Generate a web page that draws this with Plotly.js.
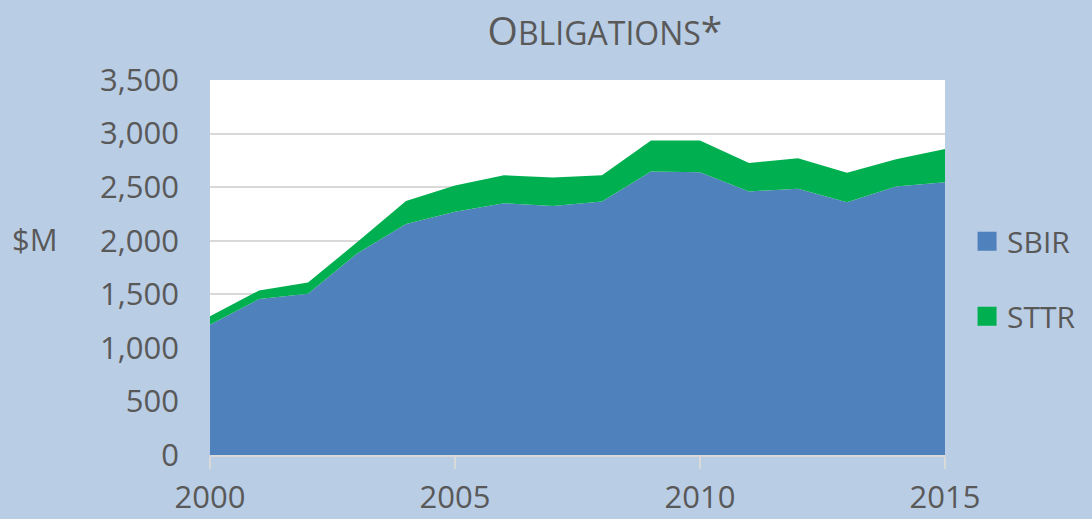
<!DOCTYPE html>
<html>
<head>
<meta charset="utf-8">
<script src="https://cdn.plot.ly/plotly-3.0.1.min.js"></script>
<style>html,body{margin:0;padding:0;background:#B9CDE5;}#chart{width:1092px;height:519px;}</style>
</head>
<body>
<div id="chart"></div>
<script>
// Data ($M obligations)
const years = [2000,2001,2002,2003,2004,2005,2006,2007,2008,2009,2010,2011,2012,2013,2014,2015];
const sbir  = [1215,1455,1505,1880,2155,2270,2350,2325,2365,2645,2640,2460,2485,2360,2505,2545];
const sttr  = [80,80,105,105,215,245,260,265,245,290,295,265,285,275,255,310];
const seriesNames = ["SBIR","STTR"];
const yTicks = [0,500,1000,1500,2000,2500,3000,3500];
const xTicks = [2000,2005,2010,2015];

const colBlue = "#4F81BD", colGreen = "#00B050", txt = "#595959";

const traces = [
  {x: years, y: sbir, name: seriesNames[0], type: "scatter", mode: "none", stackgroup: "one",
   fillcolor: colBlue, showlegend: false, hoverinfo: "x+y+name"},
  {x: years, y: sttr, name: seriesNames[1], type: "scatter", mode: "none", stackgroup: "one",
   fillcolor: colGreen, showlegend: false, hoverinfo: "x+y+name"},
  {x: [null], y: [null], name: seriesNames[0], type: "scatter", mode: "markers", legendgroup: "a",
   marker: {symbol: "square", size: 16, color: colBlue, line: {color: colBlue, width: 3}}},
  {x: [null], y: [null], name: seriesNames[1], type: "scatter", mode: "markers", legendgroup: "b",
   marker: {symbol: "square", size: 16, color: colGreen, line: {color: colGreen, width: 3}}}
];

const layout = {
  width: 1092, height: 519,
  paper_bgcolor: "#B9CDE5", plot_bgcolor: "#FFFFFF",
  margin: {l: 210, r: 147, t: 80, b: 64, autoexpand: false},
  font: {family: "Open Sans, sans-serif", color: txt, size: 30},
  title: {
    text: "O<span style=\"font-size:32px\">BLIGATIONS</span>*",
    font: {family: "Open Sans, sans-serif", size: 39, color: txt},
    x: 0.554, xref: "container", xanchor: "center",
    y: 0.94, yref: "container", yanchor: "middle"
  },
  xaxis: {
    range: [2000, 2015], tickvals: xTicks, ticktext: xTicks.map(String),
    showgrid: false, zeroline: false,
    showline: true, linecolor: "#D9D9D9", linewidth: 2,
    ticks: "outside", ticklen: 12, tickcolor: "#D9D9D9", tickwidth: 2,
    tickfont: {size: 31, color: txt}, ticklabelstandoff: 2
  },
  yaxis: {
    range: [0, 3500], tickvals: yTicks, ticktext: yTicks.map(v => v.toLocaleString("en-US")),
    showgrid: true, gridcolor: "#D9D9D9", gridwidth: 2, zeroline: false, showline: false,
    ticks: "", tickfont: {size: 31, color: txt}, ticklabelstandoff: 30
  },
  legend: {
    x: 1.03, xref: "paper", xanchor: "left", y: 0.47, yanchor: "middle",
    font: {size: 30, color: txt}, bgcolor: "rgba(0,0,0,0)",
    traceorder: "grouped", tracegroupgap: 33, itemwidth: 30
  },
  annotations: [{
    text: "$M", xref: "paper", yref: "paper", x: -0.238, y: 0.575,
    xanchor: "center", yanchor: "middle", showarrow: false,
    font: {size: 31, color: txt}
  }],
  showlegend: true
};

Plotly.newPlot("chart", traces, layout, {displayModeBar: false, staticPlot: true});
</script>
</body>
</html>
